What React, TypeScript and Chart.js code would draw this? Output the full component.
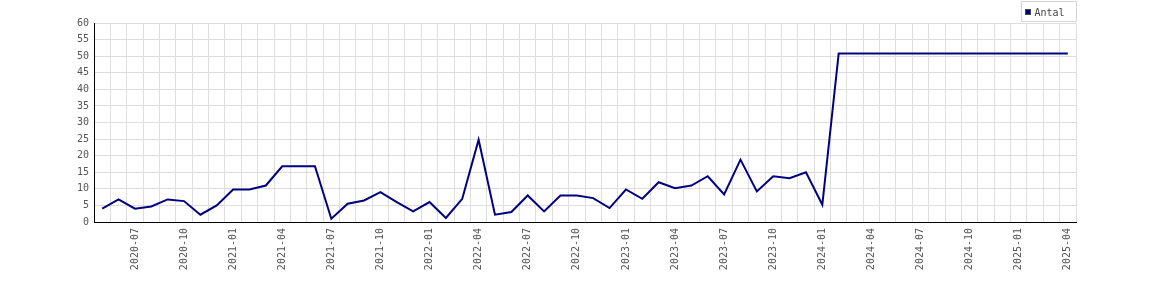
import React, { useEffect, useRef } from "react";
import { Chart, registerables } from "chart.js";

Chart.register(...registerables);

const MONTHS: string[] = [
  "2020-05", "2020-06", "2020-07", "2020-08", "2020-09", "2020-10",
  "2020-11", "2020-12", "2021-01", "2021-02", "2021-03", "2021-04",
  "2021-05", "2021-06", "2021-07", "2021-08", "2021-09", "2021-10",
  "2021-11", "2021-12", "2022-01", "2022-02", "2022-03", "2022-04",
  "2022-05", "2022-06", "2022-07", "2022-08", "2022-09", "2022-10",
  "2022-11", "2022-12", "2023-01", "2023-02", "2023-03", "2023-04",
  "2023-05", "2023-06", "2023-07", "2023-08", "2023-09", "2023-10",
  "2023-11", "2023-12", "2024-01", "2024-02", "2024-03", "2024-04",
  "2024-05", "2024-06", "2024-07", "2024-08", "2024-09", "2024-10",
  "2024-11", "2024-12", "2025-01", "2025-02", "2025-03", "2025-04",
];

const ANTAL: number[] = [
  4, 6.8, 4, 4.7, 6.8, 6.3, 2.2, 5, 9.8, 9.8, 11, 16.8,
  16.8, 16.8, 1, 5.5, 6.5, 9, 6, 3.2, 6, 1.2, 7, 24.8,
  2.2, 3, 8, 3.2, 8, 8, 7.2, 4.2, 9.8, 7, 12, 10.2,
  11, 13.8, 8.3, 18.8, 9.2, 13.8, 13.2, 15, 5.2, 50.8,
  50.8, 50.8, 50.8, 50.8, 50.8, 50.8, 50.8, 50.8, 50.8, 50.8,
  50.8, 50.8, 50.8, 50.8,
];

const TICK_LABELS: string[] = [
  "2020-07", "2020-10", "2021-01", "2021-04", "2021-07", "2021-10",
  "2022-01", "2022-04", "2022-07", "2022-10", "2023-01", "2023-04",
  "2023-07", "2023-10", "2024-01", "2024-04", "2024-07", "2024-10",
  "2025-01", "2025-04",
];

const SERIES_LABEL = "Antal";
const LINE_COLOR = "#000080";
const FONT = "'DejaVu Sans Mono', monospace";

const legendBoxPlugin = {
  id: "legendBox",
  afterDraw(chart: any) {
    const ctx = chart.ctx;
    const ds = chart.data.datasets[0];
    ctx.save();
    ctx.font = `10px ${FONT}`;
    const textW = ctx.measureText(ds.label).width;
    const boxW = Math.round(4 + 6 + 4 + textW + 11);
    const right = Math.round(chart.chartArea.right);
    const x0 = right - boxW;
    const y0 = 1;
    const h = 20;
    ctx.fillStyle = "#ffffff";
    ctx.fillRect(x0, y0, boxW, h);
    ctx.strokeStyle = "#d4d4d4";
    ctx.lineWidth = 1;
    ctx.strokeRect(x0 + 0.5, y0 + 0.5, boxW, h);
    ctx.fillStyle = ds.borderColor;
    ctx.fillRect(x0 + 4, 9, 6, 6);
    ctx.strokeStyle = "#444";
    ctx.strokeRect(x0 + 4.5, 9.5, 5, 5);
    ctx.fillStyle = "#444";
    ctx.textBaseline = "alphabetic";
    ctx.textAlign = "left";
    ctx.fillText(ds.label, x0 + 13.5, 16);
    ctx.restore();
  },
};

export default function App() {
  const ref = useRef<HTMLCanvasElement | null>(null);

  useEffect(() => {
    if (!ref.current) return;
    const chart = new Chart(ref.current, {
      type: "line",
      data: {
        labels: MONTHS,
        datasets: [
          {
            label: SERIES_LABEL,
            data: ANTAL,
            borderColor: LINE_COLOR,
            backgroundColor: LINE_COLOR,
            borderWidth: 2,
            pointRadius: 0,
            tension: 0,
            fill: false,
          },
        ],
      },
      options: {
        responsive: false,
        animation: false,
        layout: { padding: { top: 23, right: 94, bottom: 0, left: 0 } },
        plugins: {
          legend: { display: false },
          tooltip: { enabled: false },
        },
        scales: {
          x: {
            type: "category",
            offset: true,
            grid: {
              offset: true,
              color: "#dddddd",
              lineWidth: 1,
              drawTicks: false,
            },
            border: { color: "#000000", width: 1 },
            ticks: {
              autoSkip: false,
              maxRotation: 90,
              minRotation: 90,
              padding: 6,
              color: "#555555",
              font: { family: FONT, size: 10 },
              callback: function (this: any, value: any) {
                const lbl = this.getLabelForValue(value);
                return TICK_LABELS.includes(lbl) ? lbl : "";
              },
            },
            afterFit: (axis: any) => {
              axis.height = 78;
            },
          },
          y: {
            min: 0,
            max: 60,
            grid: {
              color: "#dddddd",
              lineWidth: 1,
              drawTicks: false,
            },
            border: { color: "#000000", width: 1 },
            ticks: {
              stepSize: 5,
              padding: 5,
              color: "#555555",
              font: { family: FONT, size: 10 },
            },
            afterFit: (axis: any) => {
              axis.width = 94;
            },
          },
        },
      },
      plugins: [legendBoxPlugin],
    });
    return () => chart.destroy();
  }, []);

  return (
    <div style={{ position: "absolute", left: 0, top: 0, width: 1170, height: 300, background: "#fff" }}>
      <canvas ref={ref} width={1170} height={300} />
    </div>
  );
}
